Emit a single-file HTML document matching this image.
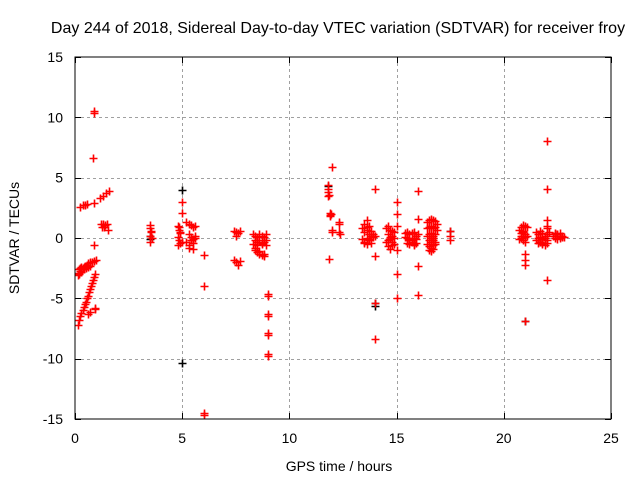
<!DOCTYPE html>
<html><head><meta charset="utf-8"><style>
body{margin:0;background:#fff}
svg{display:block;font-family:"Liberation Sans",sans-serif}
</style></head><body>
<svg id="chart" width="640" height="480">
<text x="338" y="33" text-anchor="middle" font-size="16">Day 244 of 2018, Sidereal Day-to-day VTEC variation (SDTVAR) for receiver froy</text>
<text x="339" y="471" text-anchor="middle" font-size="14">GPS time / hours</text>
<text transform="translate(19,238) rotate(-90)" text-anchor="middle" font-size="14">SDTVAR / TECUs</text>
<g id="grid"></g><g id="ticks"></g><g id="marks"></g>
<rect x="75" y="57" width="536" height="362" fill="none" stroke="#000"/>
</svg>
<script>
const xTicks=[0,5,10,15,20,25];
const yTicks=[-15,-10,-5,0,5,10,15];
const blackHours=[5.0,5.0,14.0,14.0,21.0,11.8,3.5,3.5,17.5];
const blackValues=[4.0,-10.4,-5.4,-5.6,-6.9,4.3,0.2,-0.1,0.6];
const redHours=[
0.25,0.35,0.45,0.55,0.9,1.15,1.3,1.45,1.6,1.2,1.3,1.4,1.5,1.55,1.35,1.25,0.9,0.88,0.85,0.9,
0.15,0.2,0.25,0.3,0.35,0.4,0.45,0.5,0.55,0.6,0.7,0.8,0.9,1.0,0.2,0.3,0.4,0.5,0.6,0.7,0.2,0.25,0.3,
0.15,0.2,0.25,0.3,0.35,0.4,0.45,0.5,0.55,0.6,0.65,0.7,0.75,0.8,0.85,0.9,0.95,0.95,0.92,0.6,0.7,
3.5,3.5,3.55,3.5,3.6,3.5,3.55,
4.8,4.85,4.9,4.8,4.85,4.9,4.8,4.9,4.85,5.0,5.0,5.0,
5.2,5.3,5.4,5.5,5.6,5.3,5.4,5.5,5.6,5.2,5.3,5.5,5.4,5.6,5.3,5.5,6.0,6.0,6.0,6.0,
7.4,7.5,7.6,7.5,7.7,7.4,7.5,7.6,7.7,
8.3,8.4,8.5,8.6,8.7,8.8,8.9,8.4,8.5,8.6,8.7,8.8,8.9,8.3,8.5,8.7,8.9,8.4,8.5,8.6,8.7,8.8,8.4,8.6,8.8,9.0,9.0,9.0,9.0,9.0,9.0,9.0,9.0,
11.8,11.8,11.8,11.8,11.85,11.9,11.9,11.95,12.0,12.0,11.9,12.3,12.3,12.3,12.35,12.0,11.85,
13.4,13.5,13.6,13.7,13.8,13.9,14.0,13.5,13.6,13.7,13.8,13.9,13.4,13.5,13.6,13.7,13.8,13.5,13.6,13.7,13.6,14.0,14.0,14.0,14.0,
14.5,14.6,14.7,14.8,14.9,15.0,14.6,14.7,14.8,14.9,14.5,14.6,14.7,14.8,14.9,14.6,14.8,14.7,15.0,15.0,15.0,15.0,15.0,
15.4,15.5,15.6,15.7,15.8,15.9,16.0,15.4,15.5,15.6,15.7,15.8,15.9,15.5,15.6,15.7,15.8,15.9,15.6,15.8,16.0,16.0,16.0,16.0,
16.4,16.5,16.6,16.7,16.8,16.9,16.4,16.5,16.6,16.7,16.8,16.9,16.4,16.5,16.6,16.7,16.8,16.5,16.6,16.7,16.8,16.4,16.5,16.6,16.7,16.8,16.5,16.6,16.7,16.6,16.7,17.5,17.5,17.5,
20.7,20.8,20.9,21.0,21.1,20.8,20.9,21.0,21.1,20.7,20.8,20.9,21.0,20.8,20.9,21.0,21.0,21.0,21.0,21.0,
21.5,21.6,21.7,21.8,21.9,22.0,22.1,21.5,21.6,21.7,21.8,21.9,22.0,21.6,21.7,21.8,21.9,21.7,21.8,22.0,22.0,22.0,22.0,22.0,22.0,22.0,
22.3,22.4,22.5,22.6,22.7,22.8,22.4,22.5,22.6,22.7,22.4,22.5,22.6
];
const redValues=[
2.6,2.7,2.75,2.8,2.9,3.3,3.5,3.7,3.9,1.2,1.2,1.1,1.2,0.7,0.9,0.9,10.5,10.4,6.6,-0.6,
-3.1,-2.9,-2.7,-2.6,-2.5,-2.4,-2.3,-2.3,-2.2,-2.1,-2.0,-2.0,-1.9,-1.8,-3.0,-2.8,-2.6,-2.5,-2.4,-2.3,-2.6,-2.5,-2.4,
-7.2,-6.8,-6.5,-6.2,-6.0,-5.7,-5.5,-5.3,-5.0,-4.8,-4.5,-4.2,-4.0,-3.7,-3.5,-3.2,-3.0,-5.8,-5.9,-6.3,-6.1,
1.1,0.8,0.5,0.2,0.0,-0.3,0.6,
1.0,0.7,0.4,0.1,-0.2,-0.4,-0.6,0.5,0.9,3.0,2.1,-0.3,
1.3,1.2,1.1,0.9,1.0,0.3,0.1,-0.1,0.0,-0.3,-0.6,-0.4,-0.2,0.2,-0.8,-0.9,-1.4,-4.0,-14.5,-14.7,
0.6,0.5,0.4,0.2,0.6,-1.8,-2.0,-2.2,-1.9,
0.3,0.2,0.1,0.3,0.2,0.1,0.3,-0.2,-0.3,-0.2,-0.4,-0.3,-0.2,-0.5,-0.6,-0.5,-0.6,-1.0,-1.2,-1.3,-1.4,-1.5,-0.8,-1.1,-1.3,-4.6,-4.8,-6.3,-6.5,-7.9,-8.0,-9.6,-9.8,
4.4,4.1,3.8,3.5,3.6,2.1,1.9,2.0,0.7,0.5,1.8,1.3,1.2,0.5,0.3,5.9,-1.7,
0.8,1.2,1.5,1.0,0.6,0.3,0.2,0.5,0.7,0.3,0.2,0.1,-0.1,-0.3,0.0,-0.2,-0.4,-0.4,-0.5,-0.1,0.9,4.1,-1.5,-5.4,-8.4,
0.8,1.0,0.7,0.6,0.5,1.0,0.3,0.1,0.2,0.0,-0.3,-0.2,-0.1,-0.3,-0.5,-0.7,-0.6,-0.9,3.0,2.0,-1.0,-3.0,-5.0,
0.4,0.5,0.3,0.4,0.5,0.2,0.3,0.1,0.0,-0.1,-0.2,0.0,-0.1,-0.4,-0.5,-0.3,-0.6,-0.4,-0.2,-0.5,1.6,3.9,-2.3,-4.7,
1.3,1.5,1.6,1.5,1.4,1.2,0.8,0.9,1.0,0.8,0.9,0.7,0.2,0.3,0.4,0.2,0.3,-0.2,-0.3,-0.2,-0.3,-0.5,-0.7,-0.8,-0.6,-0.5,-1.0,-1.1,-0.9,0.0,0.0,0.6,0.2,-0.2,
0.7,0.9,1.1,1.0,0.9,0.4,0.5,0.3,0.2,-0.1,0.0,-0.2,-0.3,0.2,0.6,0.1,-1.3,-1.8,-2.2,-6.9,
0.5,0.3,0.6,0.4,0.2,0.3,0.5,-0.2,-0.4,-0.3,-0.5,-0.6,-0.2,0.0,0.1,-0.1,0.0,-0.3,-0.4,8.0,4.1,1.5,1.0,0.8,-3.5,-0.4,
0.2,0.3,0.3,0.2,0.2,0.1,0.0,-0.1,0.0,0.1,0.4,0.3,0.4
];
const NS="http://www.w3.org/2000/svg";
const X0=75,X1=611,Y0=419,Y1=57;
function xs(h){return X0+(h-0)/(25-0)*(X1-X0);}
function ys(v){return Y0-(v+15)/30*(Y0-Y1);}
const grid=document.getElementById('grid'),ticks=document.getElementById('ticks'),marks=document.getElementById('marks');
function mk(tag,attrs,parent){const e=document.createElementNS(NS,tag);for(const k in attrs)e.setAttribute(k,attrs[k]);parent.appendChild(e);return e;}
xTicks.forEach(t=>{
  const x=Math.round(xs(t))+0.5;
  if(t>0&&t<25){const g=mk('line',{x1:x,x2:x,y1:Y1,y2:Y0,stroke:'#a0a0a0','stroke-dasharray':'3,3'},grid);
  
  }
  mk('line',{x1:x,x2:x,y1:Y0,y2:Y0-6,stroke:'#000'},ticks);
  mk('line',{x1:x,x2:x,y1:Y1,y2:Y1+6,stroke:'#000'},ticks);
  const l=mk('text',{x:xs(t),y:443,'text-anchor':'middle','font-size':14},ticks);
  l.textContent=t;
  
  
});
yTicks.forEach(t=>{
  const y=Math.round(ys(t))+0.5;
  if(t>-15&&t<15){const g=mk('line',{x1:X0,x2:X1,y1:y,y2:y,stroke:'#a0a0a0','stroke-dasharray':'3,3'},grid);
  
  }
  mk('line',{x1:X0,x2:X0+6,y1:y,y2:y,stroke:'#000'},ticks);
  mk('line',{x1:X1,x2:X1-6,y1:y,y2:y,stroke:'#000'},ticks);
  const l=mk('text',{x:63,y:ys(t)+5,'text-anchor':'end','font-size':14},ticks);
  l.textContent=t;
  
  
});
function cross(h,v,color,name){
  const x=Math.round(xs(h))+0.5,y=Math.round(ys(v))+0.5;
  const p=mk('path',{d:`M${x-4},${y}H${x+4}M${x},${y-4}V${y+4}`,stroke:color,'stroke-width':1.6,fill:'none'},marks);
  
  
}
blackHours.forEach((h,i)=>cross(h,blackValues[i],'#000','data-point-dark'));
redHours.forEach((h,i)=>cross(h,redValues[i],'#ff0000','data-point'));
</script>
</body></html>
